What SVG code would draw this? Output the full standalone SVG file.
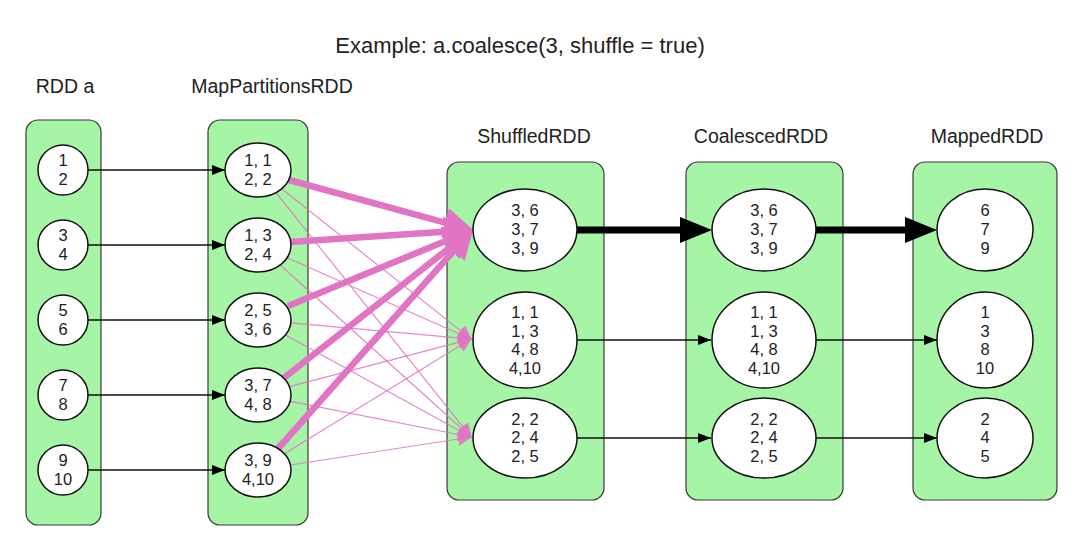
<svg xmlns="http://www.w3.org/2000/svg" width="1080" height="543" viewBox="0 0 1080 543">
<style>
text{font-family:"Liberation Sans",Arial,sans-serif;fill:#222;}
.title{font-size:22px;text-anchor:middle;}
.lbl{font-size:19.5px;text-anchor:middle;}
.t{font-size:16.5px;text-anchor:middle;}
.box{fill:#a6f4a6;stroke:#3a3a3a;stroke-width:1.2;}
.el{fill:#fff;stroke:#111;stroke-width:1.5;}
.thin{stroke:#111;stroke-width:1.3;fill:none;}
.thick{stroke:#000;stroke-width:7;fill:none;stroke-linecap:round;}
.pk{stroke:#e274c4;stroke-width:1.2;fill:none;opacity:0.85;}
.pkt{stroke:#e274c4;stroke-width:6.5;fill:none;}
</style>
<defs>
<marker id="ab" markerUnits="userSpaceOnUse" markerWidth="13" markerHeight="10" refX="13" refY="5" orient="auto"><path d="M0,0 L13,5 L0,10 z" fill="#000"/></marker>
<marker id="abig" markerUnits="userSpaceOnUse" markerWidth="32" markerHeight="26" refX="0" refY="13" orient="auto"><path d="M0,0 L32,13 L0,26 z" fill="#000"/></marker>
<marker id="pbig" markerUnits="userSpaceOnUse" markerWidth="30" markerHeight="30" refX="0" refY="15" orient="auto"><path d="M0,0 L30,15 L0,30 z" fill="#e274c4"/></marker>
<marker id="psm" markerUnits="userSpaceOnUse" markerWidth="14" markerHeight="14" refX="0" refY="7" orient="auto"><path d="M0,0 L14,7 L0,14 z" fill="#e274c4"/></marker>
</defs>
<rect width="1080" height="543" fill="#fff"/>
<text class="title" x="520" y="53">Example: a.coalesce(3, shuffle = true)</text>

<g id="rdd-a">
<text class="lbl" x="65" y="93">RDD a</text>
<rect class="box" x="26" y="120" width="75" height="405" rx="12"/>
</g>
<g id="mappartitions-rdd">
<text class="lbl" x="272" y="93">MapPartitionsRDD</text>
<rect class="box" x="208" y="120" width="100" height="405" rx="12"/>
</g>
<g id="shuffled-rdd">
<text class="lbl" x="534" y="143">ShuffledRDD</text>
<rect class="box" x="447" y="162" width="157" height="338" rx="12"/>
</g>
<g id="coalesced-rdd">
<text class="lbl" x="761" y="143">CoalescedRDD</text>
<rect class="box" x="686" y="162" width="157" height="338" rx="12"/>
</g>
<g id="mapped-rdd">
<text class="lbl" x="987" y="143">MappedRDD</text>
<rect class="box" x="913" y="162" width="144" height="338" rx="12"/>
</g>

<g id="connectors">
<line class="thin" x1="88" y1="170" x2="225" y2="170" marker-end="url(#ab)"/>
<line class="thin" x1="88" y1="245" x2="225" y2="245" marker-end="url(#ab)"/>
<line class="thin" x1="88" y1="320" x2="225" y2="320" marker-end="url(#ab)"/>
<line class="thin" x1="88" y1="395" x2="225" y2="395" marker-end="url(#ab)"/>
<line class="thin" x1="88" y1="470" x2="225" y2="470" marker-end="url(#ab)"/>

<line class="pk" x1="281.7" y1="188.8" x2="460.8" y2="330.9" marker-end="url(#psm)"/>
<line class="pk" x1="276.0" y1="192.6" x2="462.9" y2="426.8" marker-end="url(#psm)"/>
<line class="pk" x1="287.0" y1="257.8" x2="459.1" y2="333.7" marker-end="url(#psm)"/>
<line class="pk" x1="280.2" y1="265.0" x2="461.3" y2="428.3" marker-end="url(#psm)"/>
<line class="pk" x1="290.8" y1="322.9" x2="458.1" y2="337.8" marker-end="url(#psm)"/>
<line class="pk" x1="285.4" y1="335.0" x2="459.6" y2="430.7" marker-end="url(#psm)"/>
<line class="pk" x1="289.4" y1="386.7" x2="458.4" y2="342.3" marker-end="url(#psm)"/>
<line class="pk" x1="290.1" y1="401.3" x2="458.2" y2="434.5" marker-end="url(#psm)"/>
<line class="pk" x1="284.4" y1="453.8" x2="459.9" y2="345.8" marker-end="url(#psm)"/>
<line class="pk" x1="290.4" y1="465.0" x2="458.2" y2="439.0" marker-end="url(#psm)"/>

<line class="pkt" x1="289" y1="180" x2="445.0" y2="222.6" marker-end="url(#pbig)"/>
<line class="pkt" x1="290" y1="242" x2="444.1" y2="231.8" marker-end="url(#pbig)"/>
<line class="pkt" x1="288" y1="306" x2="446.2" y2="240.7" marker-end="url(#pbig)"/>
<line class="pkt" x1="280" y1="381" x2="450.0" y2="247.4" marker-end="url(#pbig)"/>
<line class="pkt" x1="275" y1="452" x2="453.5" y2="251.0" marker-end="url(#pbig)"/>

<line class="thick" x1="577" y1="230" x2="680" y2="230" marker-end="url(#abig)"/>
<line class="thick" x1="816" y1="230" x2="905" y2="230" marker-end="url(#abig)"/>
<line class="thin" x1="577" y1="340" x2="711" y2="340" marker-end="url(#ab)"/>
<line class="thin" x1="577" y1="438" x2="711" y2="438" marker-end="url(#ab)"/>
<line class="thin" x1="815" y1="340" x2="937" y2="340" marker-end="url(#ab)"/>
<line class="thin" x1="815" y1="438" x2="937" y2="438" marker-end="url(#ab)"/>
</g>

<g id="a-p1"><ellipse class="el" cx="63" cy="170" rx="25" ry="25"/><text class="t" x="63" y="166">1</text><text class="t" x="63" y="185">2</text></g>
<g id="a-p2"><ellipse class="el" cx="63" cy="245" rx="25" ry="25"/><text class="t" x="63" y="241">3</text><text class="t" x="63" y="260">4</text></g>
<g id="a-p3"><ellipse class="el" cx="63" cy="320" rx="25" ry="25"/><text class="t" x="63" y="316">5</text><text class="t" x="63" y="335">6</text></g>
<g id="a-p4"><ellipse class="el" cx="63" cy="395" rx="25" ry="25"/><text class="t" x="63" y="391">7</text><text class="t" x="63" y="410">8</text></g>
<g id="a-p5"><ellipse class="el" cx="63" cy="470" rx="25" ry="25"/><text class="t" x="63" y="466">9</text><text class="t" x="63" y="485">10</text></g>

<g id="m-p1"><ellipse class="el" cx="258" cy="170" rx="33" ry="27"/><text class="t" x="258" y="166">1, 1</text><text class="t" x="258" y="185">2, 2</text></g>
<g id="m-p2"><ellipse class="el" cx="258" cy="245" rx="33" ry="27"/><text class="t" x="258" y="241">1, 3</text><text class="t" x="258" y="260">2, 4</text></g>
<g id="m-p3"><ellipse class="el" cx="258" cy="320" rx="33" ry="27"/><text class="t" x="258" y="316">2, 5</text><text class="t" x="258" y="335">3, 6</text></g>
<g id="m-p4"><ellipse class="el" cx="258" cy="395" rx="33" ry="27"/><text class="t" x="258" y="391">3, 7</text><text class="t" x="258" y="410">4, 8</text></g>
<g id="m-p5"><ellipse class="el" cx="258" cy="470" rx="33" ry="27"/><text class="t" x="258" y="466">3, 9</text><text class="t" x="258" y="485">4,10</text></g>

<g id="s-p1"><ellipse class="el" cx="525" cy="230" rx="52" ry="41"/><text class="t" x="525" y="216">3, 6</text><text class="t" x="525" y="235">3, 7</text><text class="t" x="525" y="254">3, 9</text></g>
<g id="s-p2"><ellipse class="el" cx="525" cy="340" rx="52" ry="48"/><text class="t" x="525" y="318">1, 1</text><text class="t" x="525" y="337">1, 3</text><text class="t" x="525" y="355">4, 8</text><text class="t" x="525" y="374">4,10</text></g>
<g id="s-p3"><ellipse class="el" cx="525" cy="438" rx="52" ry="40"/><text class="t" x="525" y="425">2, 2</text><text class="t" x="525" y="443">2, 4</text><text class="t" x="525" y="462">2, 5</text></g>

<g id="c-p1"><ellipse class="el" cx="764" cy="230" rx="52" ry="41"/><text class="t" x="764" y="216">3, 6</text><text class="t" x="764" y="235">3, 7</text><text class="t" x="764" y="254">3, 9</text></g>
<g id="c-p2"><ellipse class="el" cx="764" cy="340" rx="52" ry="48"/><text class="t" x="764" y="318">1, 1</text><text class="t" x="764" y="337">1, 3</text><text class="t" x="764" y="355">4, 8</text><text class="t" x="764" y="374">4,10</text></g>
<g id="c-p3"><ellipse class="el" cx="764" cy="438" rx="52" ry="40"/><text class="t" x="764" y="425">2, 2</text><text class="t" x="764" y="443">2, 4</text><text class="t" x="764" y="462">2, 5</text></g>

<g id="mp-p1"><ellipse class="el" cx="985" cy="230" rx="48" ry="41"/><text class="t" x="985" y="216">6</text><text class="t" x="985" y="235">7</text><text class="t" x="985" y="254">9</text></g>
<g id="mp-p2"><ellipse class="el" cx="985" cy="340" rx="48" ry="48"/><text class="t" x="985" y="318">1</text><text class="t" x="985" y="337">3</text><text class="t" x="985" y="355">8</text><text class="t" x="985" y="374">10</text></g>
<g id="mp-p3"><ellipse class="el" cx="985" cy="438" rx="48" ry="40"/><text class="t" x="985" y="425">2</text><text class="t" x="985" y="443">4</text><text class="t" x="985" y="462">5</text></g>
</svg>
